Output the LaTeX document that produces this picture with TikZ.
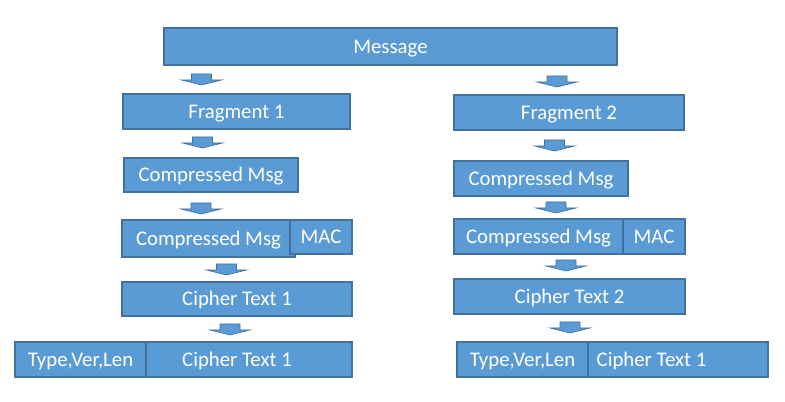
\documentclass[tikz,border=0pt]{standalone}
\usepackage{fontspec}
\setmainfont{Carlito}
\usetikzlibrary{positioning}

\definecolor{blockblue}{HTML}{5B9BD5}
\definecolor{blockedge}{HTML}{41719C}
\newlength{\pxl}
\setlength{\pxl}{0.75pt}

\tikzset{
  blk/.style={rectangle, fill=blockblue, draw=blockedge, line width=0.8pt,
    text=white, inner sep=0pt, text height=10pt, text depth=0pt,
    font=\fontsize{15.6}{18}\selectfont},
  txt/.style={text=white, inner sep=0pt, text height=10pt, text depth=0pt,
    font=\fontsize{15.6}{18}\selectfont},
  downarrow/.pic={
    \fill [blockblue, draw=blockedge, line width=0.5pt]
      (-10,0) -- (10,0) -- (10,6) -- (20,6) -- (0,11) -- (-20,6) -- (-10,6) -- cycle;
  }
}

\begin{document}
\begin{tikzpicture}[x=0.75pt,y=-0.75pt]
\useasboundingbox (0,0) rectangle (785,402);

% message
\node [blk, minimum width=453\pxl, minimum height=37\pxl] (msg) at (390.5,46.5) {Message};

% fragments
\node [blk, minimum width=227\pxl, minimum height=35\pxl] (frag1) at (236.5,111.5) {Fragment 1};
\node [blk, minimum width=230\pxl, minimum height=35\pxl] (frag2) at (569,112.5) {Fragment 2};

% compressed
\node [blk, minimum width=174\pxl, minimum height=34\pxl] (cmp1) at (211,175) {Compressed Msg};
\node [blk, minimum width=174\pxl, minimum height=35\pxl] (cmp2) at (541,178.5) {Compressed Msg};

% compressed + MAC
\node [blk, minimum width=173\pxl, minimum height=37\pxl] (cmpmac1) at (208.5,238.5) {Compressed Msg};
\node [blk, minimum width=62\pxl, minimum height=34\pxl] (mac1) at (321,237) {MAC};
\node [blk, minimum width=169\pxl, minimum height=35\pxl] (cmpmac2) at (538.5,236.5) {Compressed Msg};
\node [blk, minimum width=62\pxl, minimum height=35\pxl] (mac2) at (654,236.5) {MAC};

% cipher text
\node [blk, minimum width=230\pxl, minimum height=34\pxl] (ct1) at (237,299) {Cipher Text 1};
\node [blk, minimum width=231\pxl, minimum height=35\pxl] (ct2) at (569.5,296.5) {Cipher Text 2};

% records
\node [blk, minimum width=131\pxl, minimum height=35\pxl] (hdr1) at (80.5,359.5) {Type,Ver,Len};
\node [blk, minimum width=206\pxl, minimum height=35\pxl] (rec1) at (249,359.5) {};
\node [txt] (rec1txt) at ([xshift=-12\pxl]rec1.center) {Cipher Text 1};
\node [blk, minimum width=131\pxl, minimum height=35\pxl] (hdr2) at (522.5,359.5) {Type,Ver,Len};
\node [blk, minimum width=180\pxl, minimum height=35\pxl] (rec2) at (678,359.5) {};
\node [txt] (rec2txt) at ([xshift=-26.5\pxl]rec2.center) {Cipher Text 1};

% block arrows left
\pic at (201.5,74) {downarrow};
\pic at (202.5,137) {downarrow};
\pic at (201,203) {downarrow};
\pic at (226.5,264) {downarrow};
\pic at (230,324) {downarrow};

% block arrows right
\pic at (557,76) {downarrow};
\pic at (554.5,140) {downarrow};
\pic at (556,202) {downarrow};
\pic at (566,260) {downarrow};
\pic at (570,322) {downarrow};

\end{tikzpicture}
\end{document}
